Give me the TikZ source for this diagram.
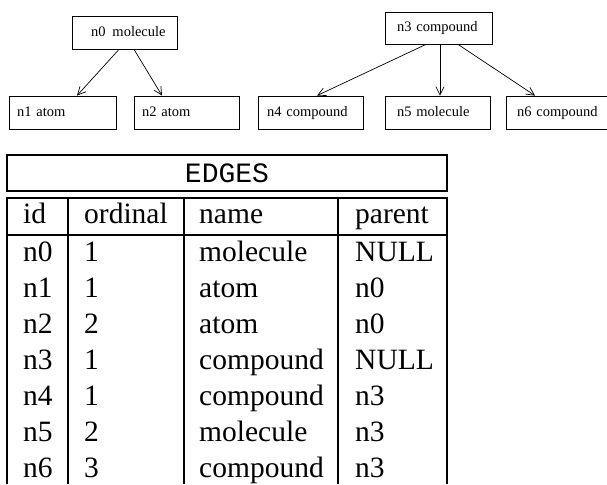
\documentclass[tikz,border=0pt]{standalone}
\usepackage{fontspec}
\setmainfont{Liberation Serif}
\setmonofont{Liberation Mono}
\usetikzlibrary{arrows.meta}
\tikzset{
  treebox/.style={draw, line width=0.8pt, minimum height=33, inner ysep=0pt, align=left,
    text height=10.5pt, text depth=3pt, font=\fontsize{14.5}{16}\selectfont},
  treearrow/.style={line width=0.7pt, -{Straight Barb[length=8, width=8, line width=0.7pt]}},
  tabline/.style={line width=2.3pt},
  cell/.style={anchor=base west, inner sep=0pt, font=\fontsize{29.5}{32}\selectfont},
  titlebox/.style={draw, line width=2.3pt, minimum width=440, minimum height=36, inner sep=0pt,
    font=\fontsize{28}{30}\ttfamily}
}
\begin{document}
\begin{tikzpicture}[x=1pt, y=-1pt]
\useasboundingbox (0,0) rectangle (607,484);
% tree nodes
\node[treebox, text width=85, inner xsep=10] (n0) at (124.5,32.5) {\mbox{\hspace*{9pt}n0\hspace{7pt}molecule}};
\node[treebox, text width=91, inner xsep=8] (n1) at (62.5,112.5) {n1 atom};
\node[treebox, text width=89, inner xsep=8] (n2) at (186.5,112.5) {n2 atom};
\node[treebox, text width=83, inner xsep=12, minimum height=32] (n3) at (438.5,28) {n3 compound};
\node[treebox, text width=87, inner xsep=9] (n4) at (310.5,112.5) {n4 compound};
\node[treebox, text width=81, inner xsep=12] (n5) at (437.5,112.5) {n5 molecule};
\node[treebox, text width=83, inner xsep=11] (n6) at (558.5,112.5) {n6 compound};
% connectors
\draw[treearrow] ([xshift=-5.5]n0.south) -- ([xshift=14.5]n1.north);
\draw[treearrow] ([xshift=9.5]n0.south) -- ([xshift=-24.5]n2.north);
\draw[treearrow] ([xshift=-12.5]n3.south) -- ([xshift=6.5]n4.north);
\draw[treearrow] ([xshift=1.5]n3.south) -- ([xshift=2.5]n5.north);
\draw[treearrow] ([xshift=19.5]n3.south) -- ([xshift=-23.5]n6.north);
% table title
\node[titlebox] (edges) at (227,173) {EDGES};
% table frame
\draw[tabline] (7,484) -- (7,198) -- (447,198) -- (447,484);
\draw[tabline] (7,235) -- (447,235);
\foreach \cx in {68,184,338} \draw[tabline] (\cx,198) -- (\cx,484);
% table texts
\node[cell] (h1) at (23,223) {id};
\node[cell] (h2) at (84,223) {ordinal};
\node[cell] (h3) at (199,223) {name};
\node[cell] (h4) at (355,223) {parent};
\foreach \i/\a/\b/\c/\d in {0/n0/1/molecule/NULL, 1/n1/1/atom/n0, 2/n2/2/atom/n0,
  3/n3/1/compound/NULL, 4/n4/1/compound/n3, 5/n5/2/molecule/n3, 6/n6/3/compound/n3} {
  \node[cell] (r\i a) at (23,{261+36*\i}) {\a};
  \node[cell] (r\i b) at (84,{261+36*\i}) {\b};
  \node[cell] (r\i c) at (199,{261+36*\i}) {\c};
  \node[cell] (r\i d) at (355,{261+36*\i}) {\d};
}
\end{tikzpicture}
\end{document}
